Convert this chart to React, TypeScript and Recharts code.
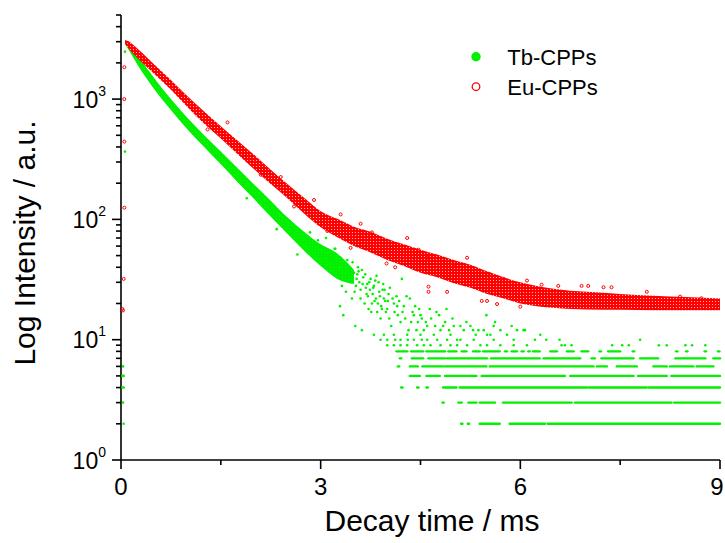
import {
  ComposedChart,
  XAxis,
  YAxis,
  Area,
  Scatter,
  ReferenceLine,
  Legend,
} from "recharts";

const TB_COLOR = "#00f000";
const EU_COLOR = "#ff0000";
const FONT = "'Liberation Sans', Arial, Helvetica, sans-serif";

// axis ticks
const xTicks = [0, 1.5, 3, 4.5, 6, 7.5, 9];
const yTicks = [
  1, 2, 3, 4, 5, 6, 7, 8, 9,
  10, 20, 30, 40, 50, 60, 70, 80, 90,
  100, 200, 300, 400, 500, 600, 700, 800, 900,
  1000, 2000, 3000, 4000, 5000,
];

// dense part of each decay: lower / upper edge of the dot band (ms, counts)
const bandTimes = [
  0.06, 0.1, 0.25, 0.5, 0.75, 1.0, 1.25, 1.5, 1.75, 2.0, 2.25, 2.5, 2.75, 3.0, 3.25, 3.5,
  3.75, 4.0, 4.25, 4.5, 4.75, 5.0, 5.25, 5.5, 5.75, 6.0, 6.25, 6.5, 6.75, 7.0, 7.5, 8.0, 8.5, 9.0,
];
const euLow = [
  2900, 2700, 2180, 1615, 1197, 857, 625, 471, 350, 261, 197, 150, 112, 86, 71, 60,
  53, 46, 41, 36, 33, 29.5, 27, 24, 22, 20, 19, 18.4, 18, 17.8, 17.7, 17.6, 17.6, 17.6,
];
const euHigh = [
  3100, 3050, 2620, 1940, 1438, 1054, 790, 596, 453, 344, 259, 197, 151, 117, 101, 87,
  79, 69, 62, 56, 51, 46, 42, 37, 33, 30, 28, 26.5, 25.5, 25, 24, 23.2, 22.6, 22,
];
const tbLow = [2850, 2640, 1920, 1210, 812, 560, 400, 287, 205, 148, 105, 76, 55, 41, 32, 29];
const tbHigh = [3050, 2950, 2300, 1490, 1000, 695, 500, 366, 267, 195, 143, 104, 79, 62, 52, 38];

// stray points around t = 0 and outside the dense band
const euStray: [number, number][] = [
  [0.05, 1840], [0.05, 1000], [0.05, 443], [0.05, 125], [0.04, 32], [0.02, 18], [0.03, 17.5],
  [0.9, 1120], [1.3, 560], [1.6, 640], [2.1, 235], [2.4, 225], [2.6, 128], [2.9, 145],
  [3.1, 80], [3.3, 110], [3.45, 58], [3.6, 92],
  [3.77, 78], [3.99, 43], [4.12, 40], [4.3, 70], [4.47, 56], [4.6, 48], [4.62, 27.6], [4.62, 25],
  [4.9, 25], [5.02, 42], [5.2, 48], [5.42, 21], [5.5, 21], [5.54, 35], [5.65, 19.8], [5.75, 32],
  [6.0, 18.8], [6.1, 31], [6.32, 28.7], [6.57, 28], [6.92, 28], [7.02, 28], [7.25, 27.3], [7.37, 27.3],
  [7.9, 25], [8.4, 22.8], [8.72, 22.1],
];
const tbStray: [number, number][] = [
  [0.06, 2480], [0.06, 366], [0.03, 6], [0.02, 5], [0.04, 5], [0.02, 4], [0.04, 4], [0.03, 3], [0.04, 2],
  [1.89, 150], [2.34, 83], [2.65, 51], [2.84, 78], [2.96, 67], [3.21, 57],
  [3.05, 48], [3.08, 70], [3.1, 40], [3.12, 55], [3.15, 45], [3.18, 38], [3.2, 50], [3.24, 42],
  [3.27, 35], [3.3, 48], [3.32, 28], [3.36, 38], [3.38, 25], [3.42, 33], [3.44, 40], [3.47, 22],
  [3.5, 36], [3.53, 28], [3.58, 30], [3.6, 26], [3.64, 33], [3.66, 20], [3.7, 29], [3.71, 23],
  [3.74, 26], [3.77, 20], [3.8, 28], [3.83, 22], [3.85, 17], [3.88, 25], [3.91, 19], [3.94, 29],
  [3.97, 21], [4.0, 18], [4.03, 15], [4.08, 22], [4.11, 17], [4.15, 19], [4.18, 21], [4.23, 17],
  [4.27, 15], [4.36, 14], [4.4, 16], [4.44, 12], [4.48, 18], [4.52, 15], [4.58, 14], [4.66, 15],
  [4.72, 13], [4.78, 16], [4.84, 13], [4.93, 12], [4.98, 15], [5.1, 13], [5.15, 12], [5.25, 13],
  [5.33, 11], [5.45, 12], [5.55, 11], [5.7, 12], [5.8, 11], [5.95, 12],
  [3.22, 57], [3.29, 19], [3.34, 16], [3.4, 46], [3.45, 30], [3.52, 13], [3.55, 35], [3.56, 40],
  [3.6, 22], [3.62, 38], [3.62, 12], [3.68, 27], [3.72, 18], [3.75, 32], [3.78, 24], [3.82, 31],
  [3.84, 34], [3.86, 20], [3.9, 15], [3.93, 26], [3.95, 22], [3.98, 17], [4.02, 24], [4.04, 27],
  [4.06, 13], [4.1, 20], [4.14, 23], [4.16, 16], [4.2, 14], [4.22, 32], [4.25, 19], [4.29, 23],
  [4.32, 12], [4.34, 22], [4.38, 17], [4.42, 19], [4.46, 14], [4.5, 16], [4.55, 12], [4.6, 13],
  [4.64, 18], [4.7, 11], [4.74, 17], [4.8, 12], [4.87, 14], [4.89, 18], [4.95, 11], [5.0, 13],
  [5.05, 10], [5.19, 14], [5.29, 12], [5.37, 12], [5.49, 16], [5.6, 13], [5.62, 14], [5.87, 13],
  [6.05, 12], [6.07, 12], [6.3, 11],
  [3.8, 11], [3.95, 11], [4.1, 11], [4.3, 11], [4.5, 11], [5.5, 11],
  [3.48, 44], [3.51, 25], [3.54, 32], [3.57, 37], [3.63, 29], [3.67, 35], [3.69, 24], [3.73, 30],
  [3.76, 17], [3.79, 27], [3.81, 21], [3.87, 30], [3.89, 23], [3.92, 18], [3.96, 26], [4.01, 21],
];
const tbLevel10Times = [3.9, 4.0, 4.12, 4.2, 4.31, 4.4, 4.52, 4.6, 4.75, 4.9, 5.1, 5.3, 5.6, 5.9, 6.22, 6.39, 6.59, 7.8];
const tbLevel9Times = [
  4.0, 4.1, 4.2, 4.3, 4.45, 4.55, 4.65, 4.8, 4.95, 5.05, 5.2, 5.4, 5.5, 5.7, 5.9, 6.1,
  6.62, 6.67, 6.77, 7.38, 7.53, 7.63, 8.08, 8.2, 8.48, 8.58, 8.78,
];

// low-count tail: quantized rows (counts) and the time spans where dots fill them
const tbRowLevels = [2, 3, 4, 5, 6, 7, 8];
const tbRowSpans: [number, number][][] = [
  [[5.11, 5.13], [5.21, 5.23], [5.39, 5.69], [5.84, 6.37], [6.41, 9.0]],
  [[4.83, 4.85], [5.07, 5.12], [5.22, 5.34], [5.39, 5.62], [5.74, 6.77], [6.82, 8.27], [8.31, 9.0]],
  [[4.21, 4.23], [4.45, 4.47], [4.59, 4.61], [4.84, 5.04], [5.09, 7.0], [7.03, 7.9], [7.93, 9.0]],
  [[4.34, 4.49], [4.59, 4.79], [4.87, 5.34], [5.42, 6.67], [6.75, 7.7], [7.77, 8.2], [8.27, 9.0]],
  [[4.16, 4.18], [4.34, 4.46], [4.53, 4.84], [4.87, 5.49], [5.54, 7.1], [7.15, 7.3], [7.45, 7.75], [8.0, 8.2], [8.25, 8.6], [8.65, 8.9]],
  [[4.19, 4.21], [4.37, 4.54], [4.62, 4.87], [4.9, 5.5], [5.56, 6.29], [6.35, 6.9], [7.07, 7.12], [7.22, 7.7], [7.8, 8.07], [8.33, 8.78], [8.9, 9.0]],
  [[4.14, 4.3], [4.36, 4.54], [4.59, 4.87], [4.92, 5.04], [5.12, 5.19], [5.29, 5.39], [5.44, 5.69], [5.77, 5.8], [5.87, 5.95], [6.02, 6.05], [6.12, 6.14], [6.19, 6.29], [6.45, 6.55], [6.7, 6.8], [6.92, 7.02], [7.19, 7.21], [7.32, 7.5], [7.69, 7.71], [8.34, 8.36], [8.49, 8.51], [8.77, 8.79], [8.97, 8.99]],
];

const euBand = bandTimes.map((t, i) => ({ t, range: [euLow[i], euHigh[i]] }));
const tbBand = tbLow.map((lo, i) => ({ t: bandTimes[i], range: [lo, tbHigh[i]] }));
const euPoints = euStray.map(([t, v]) => ({ t, v }));
const tbPoints = [
  ...tbStray.map(([t, v]) => ({ t, v })),
  ...tbLevel10Times.map((t) => ({ t, v: 10 })),
  ...tbLevel9Times.map((t) => ({ t, v: 9 })),
];

function XTick({ x, y, payload }: any) {
  const major = payload.value % 3 === 0;
  // the last label sits flush with the right edge
  const shift = payload.value === 9 ? -3 : 0;
  return (
    <g>
      <line x1={x} x2={x} y1={y} y2={y + (major ? 9 : 5)} stroke="#000" strokeWidth={1.6} />
      {major && (
        <text x={x + shift} y={y + 34.5} textAnchor="middle" fontSize={24} fontFamily={FONT} fill="#000">
          {payload.value}
        </text>
      )}
    </g>
  );
}

function YTick({ x, y, payload }: any) {
  const exp = Math.log10(payload.value);
  const major = Math.abs(exp - Math.round(exp)) < 1e-9;
  return (
    <g>
      <line x1={x} x2={x - (major ? 9 : 5)} y1={y} y2={y} stroke="#000" strokeWidth={1.6} />
      {major && (
        <text x={x - 15} y={y + 8.5} textAnchor="end" fontSize={23} fontFamily={FONT} fill="#000">
          10<tspan dy={-12} fontSize={14}>{Math.round(exp)}</tspan>
        </text>
      )}
    </g>
  );
}

const XTitle = () => (
  <text x={432} y={531} textAnchor="middle" fontSize={30} fontFamily={FONT} fill="#000">
    Decay time / ms
  </text>
);

const YTitle = () => (
  <text
    x={35}
    y={243}
    transform="rotate(-90, 35, 243)"
    textAnchor="middle"
    fontSize={30}
    fontFamily={FONT}
    fill="#000"
  >
    Log Intensity / a.u.
  </text>
);

function LegendBox() {
  return (
    <svg width={170} height={65} style={{ display: "block" }}>
      <circle cx={16} cy={16.7} r={4.7} fill={TB_COLOR} />
      <text x={47.3} y={25} fontSize={22} fontFamily={FONT} fill="#000">Tb-CPPs</text>
      <circle cx={16} cy={46.7} r={3.8} fill="#fff" stroke={EU_COLOR} strokeWidth={1.3} />
      <text x={47.3} y={55} fontSize={22} fontFamily={FONT} fill="#000">Eu-CPPs</text>
    </svg>
  );
}

const tbDot = (p: any) => <circle cx={p.cx} cy={p.cy} r={1.3} fill={TB_COLOR} />;
const euDot = (p: any) => (
  <circle cx={p.cx} cy={p.cy} r={1.5} fill="none" stroke={EU_COLOR} strokeWidth={1} />
);

export default function App() {
  return (
    <div style={{ position: "absolute", left: 0, top: 0, background: "#fff" }}>
      <ComposedChart width={725} height={543} margin={{ top: 15, right: 5, left: 0, bottom: 0 }}>
        <defs>
          {/* packed open circles: red with small white holes */}
          <pattern id="euDots" patternUnits="userSpaceOnUse" width={3} height={3}>
            <rect width={3} height={3} fill={EU_COLOR} />
            <circle cx={1.5} cy={1.5} r={0.55} fill="#ffd6d6" />
          </pattern>
          <pattern id="tbDots" patternUnits="userSpaceOnUse" width={3} height={3}>
            <rect width={3} height={3} fill={TB_COLOR} />
            <circle cx={0} cy={0} r={0.4} fill="#b8ffb8" />
          </pattern>
        </defs>
        <XAxis
          dataKey="t"
          type="number"
          domain={[0, 9]}
          ticks={xTicks}
          interval={0}
          allowDataOverflow
          height={83}
          tickSize={0}
          tickMargin={0}
          tickLine={false}
          axisLine={{ stroke: "#000", strokeWidth: 1.6 }}
          tick={(p: any) => <XTick {...p} />}
          label={<XTitle />}
        />
        <YAxis
          dataKey="v"
          scale="log"
          domain={[1, 5000]}
          ticks={yTicks}
          interval={0}
          allowDataOverflow
          width={121}
          tickSize={0}
          tickMargin={0}
          tickLine={false}
          axisLine={{ stroke: "#000", strokeWidth: 1.6 }}
          tick={(p: any) => <YTick {...p} />}
          label={<YTitle />}
        />
        <Legend
          layout="horizontal"
          verticalAlign="middle"
          align="center"
          wrapperStyle={{ position: "absolute", left: 460, top: 40, width: 170, height: 65 }}
          content={() => <LegendBox />}
        />

        <Area
          data={tbBand}
          dataKey="range"
          type="monotone"
          stroke="none"
          fill="url(#tbDots)"
          fillOpacity={1}
          dot={false}
          activeDot={false}
          isAnimationActive={false}
        />
        {tbRowLevels.flatMap((level, i) =>
          tbRowSpans[i].map(([a, b]) => (
            <ReferenceLine
              key={`row-${level}-${a}`}
              segment={[{ x: a, y: level }, { x: b, y: level }]}
              stroke={TB_COLOR}
              strokeWidth={2.4}
              strokeLinecap="round"
            />
          )),
        )}
        <Scatter data={tbPoints} fill={TB_COLOR} shape={tbDot} isAnimationActive={false} />

        <Area
          data={euBand}
          dataKey="range"
          type="monotone"
          stroke="none"
          fill="url(#euDots)"
          fillOpacity={1}
          dot={false}
          activeDot={false}
          isAnimationActive={false}
        />
        <Scatter data={euPoints} fill={EU_COLOR} shape={euDot} isAnimationActive={false} />
      </ComposedChart>
    </div>
  );
}
